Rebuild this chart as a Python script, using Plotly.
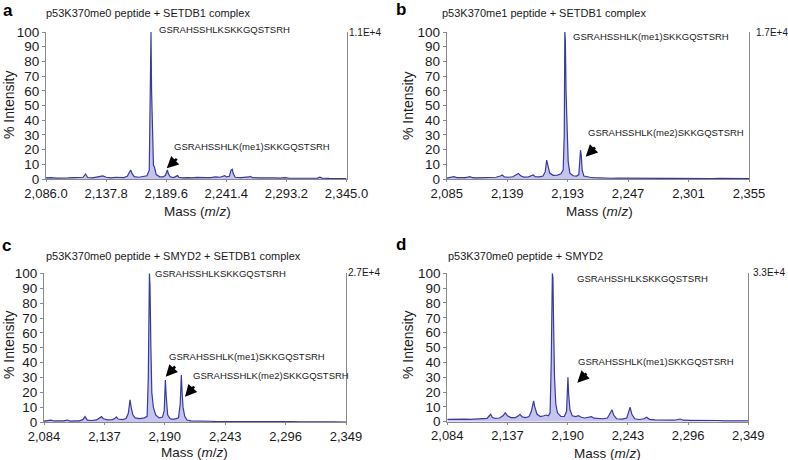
import plotly.graph_objects as go

# ---------------- data ----------------
# Panel a: p53K370me0 peptide + SETDB1 complex
mass_a = [2086, 2090, 2095, 2100, 2105, 2110, 2115, 2118, 2120, 2122, 2126, 2130, 2133, 2135, 2138,
          2142, 2146, 2149, 2153, 2156, 2158, 2159, 2160, 2162, 2166, 2170, 2173, 2175, 2176, 2176.5,
          2177, 2177.8, 2178.6, 2179.5, 2181, 2184, 2187, 2189, 2190, 2190.6, 2191.5, 2193, 2196, 2198,
          2199.4, 2200.5, 2204, 2208, 2212, 2216, 2220, 2224, 2228, 2232, 2236, 2238, 2240, 2241.5,
          2244, 2245.5, 2246.5, 2247.5, 2249, 2254, 2258, 2261, 2262.3, 2264, 2270, 2276, 2282, 2288,
          2292, 2296, 2302, 2308, 2314, 2320, 2322, 2324, 2330, 2336, 2340, 2345]
int_a = [0.8, 1.0, 0.6, 0.9, 0.7, 0.9, 0.8, 1.2, 3.4, 1.0, 0.8, 1.2, 2.0, 2.1, 1.2,
         0.8, 1.2, 0.9, 1.0, 1.8, 4.5, 6.1, 4.0, 1.6, 1.2, 1.5, 2.2, 6.0, 68, 100,
         60, 30, 9.5, 8.0, 3.0, 1.5, 1.4, 2.5, 5.5, 6.1, 3.5, 1.5, 1.0, 1.5,
         2.3, 1.2, 0.8, 1.0, 0.7, 1.1, 0.8, 1.0, 1.0, 1.4, 1.2, 1.8, 2.3, 1.4,
         1.8, 6.0, 6.6, 3.5, 1.2, 0.9, 1.0, 1.4, 1.8, 0.9, 0.8, 0.5, 0.7, 0.6,
         0.9, 0.5, 0.6, 0.7, 0.5, 0.6, 1.2, 0.6, 0.4, 0.5, 0.4, 0.3]

# Panel b: p53K370me1 peptide + SETDB1 complex
mass_b = [2085, 2088, 2091.5, 2094, 2098, 2102, 2105.8, 2108, 2112, 2116, 2119, 2121, 2125, 2129,
          2133, 2134.7, 2136.5, 2140, 2144, 2147, 2149, 2151, 2154, 2158, 2161, 2162.3, 2164, 2168,
          2171, 2173, 2174.3, 2175.5, 2177, 2180, 2184, 2187, 2189, 2190, 2190.5, 2191, 2191.6,
          2192.5, 2193.5, 2195, 2198, 2201, 2203, 2204, 2204.5, 2205.2, 2206, 2207.5, 2210, 2213,
          2216, 2220, 2226, 2232, 2238, 2244, 2250, 2256, 2262, 2268, 2274, 2280, 2286, 2292, 2298,
          2304, 2310, 2316, 2322, 2328, 2334, 2340, 2346, 2355]
int_b = [0.6, 0.9, 1.6, 1.0, 0.8, 1.0, 1.6, 0.9, 0.8, 1.0, 1.2, 0.9, 1.0, 1.2,
         2.0, 2.7, 1.4, 1.2, 1.5, 2.8, 3.8, 2.2, 1.3, 1.5, 2.0, 2.7, 1.6, 1.5,
         2.0, 5.0, 12.9, 8.0, 4.0, 2.5, 2.6, 3.5, 6.0, 30, 100, 94, 59,
         25, 12, 4.0, 2.2, 2.0, 3.0, 14, 19.7, 16, 6.0, 2.0, 1.5, 1.2,
         0.9, 0.7, 0.6, 0.5, 0.6, 0.5, 0.7, 0.4, 0.5, 0.4, 0.5, 0.4, 0.5, 0.4, 0.4,
         0.3, 0.4, 0.3, 0.3, 0.4, 0.3, 0.3, 0.3, 0.2]

# Panel c: p53K370me0 peptide + SMYD2 + SETDB1 complex
mass_c = [2084, 2087, 2090, 2093, 2097, 2101, 2104.5, 2107, 2111, 2115, 2118, 2120, 2122, 2126,
          2130, 2133, 2134.5, 2136, 2140, 2144, 2146, 2147.5, 2149, 2153, 2156, 2158, 2159.5, 2160.5,
          2162, 2164, 2168, 2172, 2174.5, 2175.5, 2176.5, 2177, 2177.8, 2178.6, 2180, 2182, 2185,
          2188, 2189.5, 2190.5, 2191.2, 2192.5, 2194.5, 2197, 2200, 2202, 2203.5, 2204.5, 2205.2,
          2206, 2207.5, 2209.5, 2213, 2218, 2224, 2230, 2236, 2242, 2248, 2254, 2260, 2266, 2272,
          2278, 2284, 2290, 2296, 2302, 2308, 2314, 2320, 2326, 2332, 2338, 2349]
int_c = [0.8, 1.0, 1.5, 0.9, 0.8, 1.0, 1.5, 0.8, 0.9, 1.0, 1.8, 3.8, 1.5, 1.2,
         1.6, 2.8, 3.8, 2.4, 1.6, 1.8, 2.5, 3.6, 2.2, 1.8, 2.5, 6.0, 15, 10,
         5.0, 3.0, 2.5, 3.0, 4.0, 30, 100, 92, 50, 20, 10, 5.0, 3.0,
         3.5, 8.0, 28.4, 18, 5.0, 2.5, 2.0, 2.5, 3.0, 12, 31.8, 20,
         10, 4.0, 1.5, 0.9, 0.7, 0.6, 0.7, 0.5, 0.6, 0.5, 0.6, 0.4, 0.5, 0.4,
         0.5, 0.4, 0.4, 0.3, 0.4, 0.3, 0.4, 0.3, 0.3, 0.3, 0.3, 0.2]

# Panel d: p53K370me0 peptide + SMYD2
mass_d = [2084, 2088, 2092, 2096, 2100, 2104, 2108, 2112, 2116, 2119, 2121, 2122.2, 2123.5, 2126,
          2130, 2133, 2135, 2137, 2140, 2144, 2146, 2148, 2150, 2153, 2156, 2158, 2160, 2161, 2163,
          2166, 2169, 2171, 2173, 2174.5, 2175.5, 2176.5, 2177, 2177.6, 2178.4, 2179.5, 2181, 2184,
          2187, 2189, 2190.2, 2190.8, 2192, 2194, 2197, 2199.5, 2202, 2205, 2208, 2211, 2213, 2217,
          2221, 2225, 2227.5, 2229, 2230.5, 2233, 2238, 2242, 2243.8, 2245, 2246.5, 2249, 2253, 2257,
          2259.5, 2262, 2267, 2272, 2278, 2284, 2289, 2292, 2298, 2304, 2310, 2315, 2318, 2322, 2328,
          2334, 2340, 2349]
int_d = [1.5, 1.7, 1.4, 1.6, 1.8, 1.5, 1.7, 1.6, 1.8, 2.2, 4.0, 5.0, 3.0, 2.2,
         2.5, 4.0, 6.0, 4.0, 2.8, 2.8, 3.6, 5.0, 3.2, 2.8, 3.5, 7.0, 14, 10, 5.0,
         3.5, 4.0, 4.5, 4.0, 6.0, 40, 100, 97, 65, 30, 12, 6.0, 3.5,
         3.5, 7.0, 30, 19, 8.0, 4.0, 3.4, 4.0, 3.0, 2.5, 2.8, 3.4, 2.4, 2.0,
         2.0, 2.5, 6.0, 8.0, 4.5, 2.0, 1.8, 2.5, 7.0, 9.7, 5.0, 2.0, 1.5, 2.0,
         3.0, 1.6, 1.2, 1.0, 1.2, 1.0, 1.8, 1.0, 0.9, 1.0, 0.8, 1.0, 1.2, 0.8, 0.6,
         0.7, 0.5, 0.5]

ticks_a = [2086.0, 2137.8, 2189.6, 2241.4, 2293.2, 2345.0]
ticks_b = [2085, 2139, 2193, 2247, 2301, 2355]
ticks_c = [2084, 2137, 2190, 2243, 2296, 2349]
ticks_d = [2084, 2137, 2190, 2243, 2296, 2349]
ticklabels_a = ["2,086.0", "2,137.8", "2,189.6", "2,241.4", "2,293.2", "2,345.0"]
ticklabels_b = ["2,085", "2,139", "2,193", "2,247", "2,301", "2,355"]
ticklabels_c = ["2,084", "2,137", "2,190", "2,243", "2,296", "2,349"]
ticklabels_d = ["2,084", "2,137", "2,190", "2,243", "2,296", "2,349"]

titles = ["p53K370me0 peptide + SETDB1 complex",
          "p53K370me1 peptide + SETDB1 complex",
          "p53K370me0 peptide + SMYD2 + SETDB1 complex",
          "p53K370me0 peptide + SMYD2"]
letters = ["a", "b", "c", "d"]
scales = ["1.1E+4", "1.7E+4", "2.7E+4", "3.3E+4"]

# ---------------- layout helpers ----------------
W, H = 788, 460
FONT = "Liberation Sans, Arial, sans-serif"
LINE = "#3a3a9c"
FILL = "rgba(150,150,225,0.55)"
AXC = "#8a8a8a"


def px(x):
    return x / W


def py(y):
    return 1 - y / H


panels = [
    dict(mass=mass_a, inten=int_a, ticks=ticks_a, labels=ticklabels_a,
         x0=46, x1=346.5, ytop=32, ybot=179),
    dict(mass=mass_b, inten=int_b, ticks=ticks_b, labels=ticklabels_b,
         x0=446.7, x1=749, ytop=32, ybot=179),
    dict(mass=mass_c, inten=int_c, ticks=ticks_c, labels=ticklabels_c,
         x0=44, x1=346, ytop=273.3, ybot=422.3),
    dict(mass=mass_d, inten=int_d, ticks=ticks_d, labels=ticklabels_d,
         x0=447.3, x1=748.3, ytop=273.3, ybot=421.7),
]

fig = go.Figure()
layout = dict(width=W, height=H, margin=dict(l=0, r=0, t=0, b=0, autoexpand=False),
              paper_bgcolor="white", plot_bgcolor="white", showlegend=False,
              font=dict(family=FONT, color="#1a1a1a"))
annotations = []

for i, p in enumerate(panels):
    n = "" if i == 0 else str(i + 1)
    fig.add_trace(go.Scatter(x=p["mass"], y=p["inten"], mode="lines",
                             line=dict(color=LINE, width=1.2),
                             fill="tozeroy", fillcolor=FILL,
                             xaxis="x" + n, yaxis="y" + n, hoverinfo="skip"))
    layout["xaxis" + n] = dict(
        domain=[px(p["x0"]), px(p["x1"])], anchor="y" + n,
        range=[p["ticks"][0], p["ticks"][-1]],
        tickvals=p["ticks"], ticktext=p["labels"],
        showline=True, linecolor=AXC, linewidth=1,
        ticks="outside", ticklen=2, tickcolor=AXC,
        showgrid=False, zeroline=False, automargin=False,
        tickfont=dict(size=13, family=FONT, color="#1a1a1a"))
    layout["yaxis" + n] = dict(
        domain=[py(p["ybot"]), py(p["ytop"])], anchor="x" + n,
        range=[0, 100], dtick=10, tick0=0,
        showline=True, mirror=True, linecolor=AXC, linewidth=1,
        ticks="outside", ticklen=3, tickcolor=AXC,
        showgrid=False, zeroline=False, automargin=False,
        tickfont=dict(size=13.5, family=FONT, color="#1a1a1a"))

# Panel letters, titles, scale labels, axis titles
letter_pos = [(8, 11), (401, 10), (6, 245), (401, 244)]
title_pos = [(45, 13.5), (440.7, 13.3), (45, 255.8), (446.7, 255.8)]
scale_pos = [(347.5, 32), (754.5, 32), (347, 272), (752, 272)]
ytitle_pos = [(9, 105), (408, 106), (9, 345), (408, 345)]
xtitle_pos = [(197, 211), (599, 211), (194, 452), (607, 453)]

for i in range(4):
    annotations.append(dict(x=px(letter_pos[i][0]), y=py(letter_pos[i][1]), xref="paper", yref="paper",
                            text="<b>" + letters[i] + "</b>", showarrow=False,
                            xanchor="center", yanchor="middle", borderpad=0,
                            font=dict(size=17, family=FONT, color="black")))
    annotations.append(dict(x=px(title_pos[i][0]), y=py(title_pos[i][1]), xref="paper", yref="paper",
                            text=titles[i], showarrow=False, xanchor="left", yanchor="middle",
                            borderpad=0, font=dict(size=11, family=FONT, color="#1a1a1a")))
    annotations.append(dict(x=px(scale_pos[i][0]), y=py(scale_pos[i][1]), xref="paper", yref="paper",
                            text=scales[i], showarrow=False, xanchor="left", yanchor="middle",
                            borderpad=0, font=dict(size=10, family=FONT, color="#1a1a1a")))
    annotations.append(dict(x=px(ytitle_pos[i][0]), y=py(ytitle_pos[i][1]), xref="paper", yref="paper",
                            text="% Intensity", showarrow=False, textangle=-90,
                            xanchor="center", yanchor="middle", borderpad=0,
                            font=dict(size=14, family=FONT, color="#1a1a1a")))
    annotations.append(dict(x=px(xtitle_pos[i][0]), y=py(xtitle_pos[i][1]), xref="paper", yref="paper",
                            text="Mass (<i>m</i>/<i>z</i>)", showarrow=False,
                            xanchor="center", yanchor="middle", borderpad=0,
                            font=dict(size=13.5, family=FONT, color="#1a1a1a")))

# Peptide labels (left x, center y in pixels)
pep_labels = [
    ("GSRAHSSHLKSKKGQSTSRH", 158.3, 29.5),
    ("GSRAHSSHLK(me1)SKKGQSTSRH", 173.3, 146.7),
    ("GSRAHSSHLK(me1)SKKGQSTSRH", 572.3, 36),
    ("GSRAHSSHLK(me2)SKKGQSTSRH", 586.7, 132.3),
    ("GSRAHSSHLKSKKGQSTSRH", 154, 273.3),
    ("GSRAHSSHLK(me1)SKKGQSTSRH", 167.7, 356),
    ("GSRAHSSHLK(me2)SKKGQSTSRH", 191.7, 375.7),
    ("GSRAHSSHLKSKKGQSTSRH", 575.7, 278.3),
    ("GSRAHSSHLK(me1)SKKGQSTSRH", 577.3, 361.7),
]
for t, x, y in pep_labels:
    annotations.append(dict(x=px(x), y=py(y), xref="paper", yref="paper", text=t,
                            showarrow=False, xanchor="left", yanchor="middle", borderpad=0,
                            font=dict(size=9.5, family=FONT, color="#1a1a1a")))

# Arrows: (head x, head y, tail x, tail y) in pixels
arrows = [
    (166.7, 168.3, 178.3, 157.5),
    (585.7, 156.7, 596.5, 146),
    (165.7, 376.7, 176.5, 365),
    (185.0, 396.7, 195.5, 385),
    (577.3, 382.7, 588, 372),
]
for hx, hy, tx, ty in arrows:
    annotations.append(dict(x=px(hx), y=py(hy), xref="paper", yref="paper",
                            ax=tx - hx, ay=ty - hy, text="", showarrow=True,
                            arrowhead=2, arrowsize=0.9, arrowwidth=2.6, arrowcolor="black"))

layout["annotations"] = annotations
fig.update_layout(**layout)
fig.write_html("out.html", config={"displayModeBar": False},
               post_script="document.body.style.margin='0';document.body.style.padding='0';")
